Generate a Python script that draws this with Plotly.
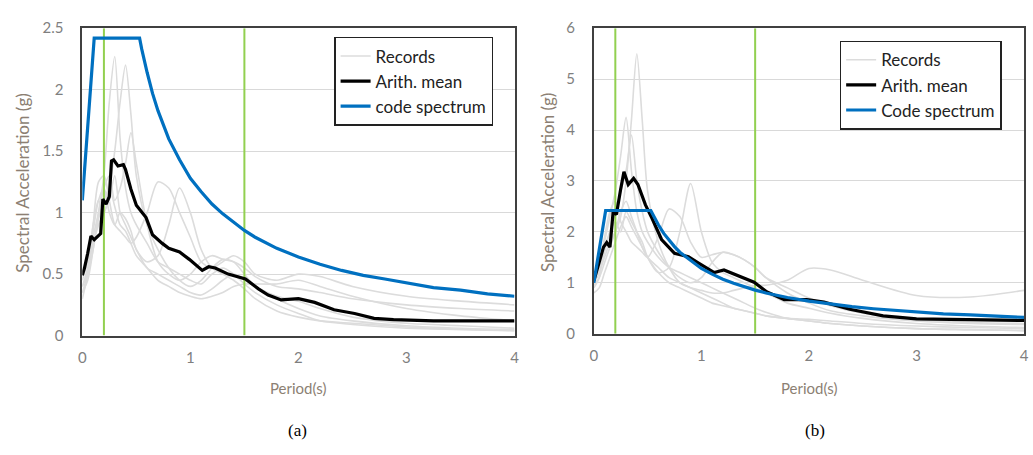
import plotly.graph_objects as go

# ---------------- data ----------------
T_rec = [0, 0.05, 0.1, 0.15, 0.2, 0.25, 0.3, 0.35, 0.4, 0.45, 0.5, 0.6, 0.7, 0.8, 0.9,
         1.0, 1.1, 1.2, 1.3, 1.4, 1.5, 1.6, 1.8, 2.0, 2.2, 2.5, 3.0, 3.5, 4.0]

records_a = [
    [0.35, 0.45, 0.7, 1.0, 1.3, 1.9, 2.27, 1.6, 1.2, 1.0, 0.9, 0.75, 0.6, 0.55, 0.5, 0.45, 0.42, 0.5, 0.55, 0.5, 0.42, 0.35, 0.25, 0.18, 0.12, 0.09, 0.06, 0.05, 0.04],
    [0.5, 0.6, 0.9, 1.1, 1.0, 1.2, 1.5, 1.9, 2.2, 1.8, 1.3, 0.9, 0.7, 0.55, 0.45, 0.4, 0.45, 0.55, 0.62, 0.6, 0.5, 0.4, 0.3, 0.22, 0.16, 0.12, 0.08, 0.06, 0.05],
    [0.4, 0.55, 0.8, 1.0, 1.2, 1.3, 1.1, 1.2, 1.4, 1.65, 1.4, 0.9, 0.6, 0.5, 0.45, 0.5, 0.6, 0.65, 0.62, 0.6, 0.55, 0.48, 0.4, 0.38, 0.35, 0.3, 0.25, 0.22, 0.2],
    [0.3, 0.5, 0.9, 1.25, 1.3, 1.1, 0.9, 0.85, 0.8, 0.75, 0.8, 1.0, 1.25, 1.2, 1.0, 0.8, 0.6, 0.55, 0.6, 0.65, 0.6, 0.5, 0.45, 0.5, 0.48, 0.4, 0.32, 0.28, 0.25],
    [0.45, 0.6, 0.85, 1.1, 1.2, 1.0, 0.9, 1.0, 0.95, 0.85, 0.7, 0.6, 0.65, 0.9, 1.2, 1.0, 0.7, 0.55, 0.5, 0.45, 0.38, 0.3, 0.2, 0.15, 0.12, 0.1, 0.07, 0.05, 0.04],
    [0.35, 0.5, 0.75, 0.9, 1.0, 1.1, 1.3, 1.0, 0.9, 0.8, 0.7, 0.55, 0.5, 0.45, 0.4, 0.35, 0.33, 0.38, 0.45, 0.5, 0.45, 0.4, 0.32, 0.28, 0.22, 0.15, 0.1, 0.08, 0.06],
    [0.4, 0.5, 0.7, 0.95, 1.1, 1.2, 1.05, 0.9, 0.85, 0.75, 0.65, 0.55, 0.45, 0.4, 0.35, 0.32, 0.3, 0.32, 0.35, 0.4, 0.42, 0.42, 0.42, 0.45, 0.4, 0.32, 0.22, 0.16, 0.12],
]

records_b = [
    [1.0, 1.2, 1.5, 1.8, 2.0, 2.3, 3.0, 4.2, 5.5, 4.2, 2.8, 1.8, 1.3, 1.0, 0.9, 0.8, 0.7, 0.6, 0.5, 0.45, 0.4, 0.35, 0.3, 0.25, 0.2, 0.15, 0.1, 0.08, 0.06],
    [0.9, 1.1, 1.8, 2.3, 2.8, 3.5, 4.25, 3.2, 2.4, 2.0, 1.8, 1.5, 1.3, 1.2, 1.1, 1.0, 0.9, 0.8, 0.7, 0.6, 0.5, 0.42, 0.3, 0.25, 0.2, 0.15, 0.1, 0.08, 0.06],
    [1.1, 1.3, 1.7, 2.0, 2.4, 2.8, 3.2, 3.9, 3.0, 2.4, 2.0, 1.6, 1.3, 1.1, 1.0, 1.1, 1.4, 1.6, 1.55, 1.45, 1.3, 1.1, 0.8, 0.6, 0.45, 0.35, 0.25, 0.2, 0.18],
    [1.0, 1.2, 1.6, 2.0, 2.2, 2.0, 2.4, 2.2, 2.0, 1.8, 1.5, 1.2, 1.3, 2.0, 2.95, 2.0, 1.4, 1.2, 1.1, 1.0, 0.9, 0.8, 0.6, 0.5, 0.4, 0.3, 0.2, 0.15, 0.12],
    [1.0, 1.3, 1.9, 2.4, 2.6, 2.2, 2.0, 1.8, 1.7, 1.6, 1.5, 1.9, 2.45, 2.3, 1.8, 1.5, 1.55, 1.6, 1.55, 1.45, 1.3, 1.1, 0.9, 0.7, 0.55, 0.4, 0.28, 0.22, 0.2],
    [0.95, 1.1, 1.4, 1.7, 2.0, 2.4, 2.6, 2.3, 2.0, 1.7, 1.5, 1.3, 1.1, 1.0, 0.9, 0.85, 0.8, 0.8, 0.85, 0.9, 0.95, 0.95, 1.05, 1.28, 1.25, 1.05, 0.75, 0.72, 0.85],
    [0.8, 0.9, 1.2, 1.5, 1.8, 2.1, 2.3, 2.1, 1.9, 1.7, 1.5, 1.2, 1.0, 0.9, 0.8, 0.7, 0.6, 0.55, 0.5, 0.45, 0.4, 0.35, 0.3, 0.28, 0.25, 0.2, 0.15, 0.12, 0.1],
]

T_mean_a = [0, 0.02, 0.05, 0.08, 0.11, 0.17, 0.19, 0.22, 0.25, 0.27, 0.29, 0.33, 0.38, 0.40, 0.45,
            0.50, 0.59, 0.65, 0.74, 0.80, 0.90, 0.99, 1.11, 1.17, 1.23, 1.35, 1.51, 1.63, 1.72,
            1.84, 2.0, 2.15, 2.33, 2.52, 2.70, 2.88, 3.25, 4.0]
mean_a = [0.49, 0.55, 0.67, 0.81, 0.78, 0.83, 1.11, 1.07, 1.13, 1.42, 1.43, 1.38, 1.39, 1.35, 1.19,
          1.06, 0.96, 0.82, 0.75, 0.71, 0.68, 0.62, 0.53, 0.56, 0.55, 0.50, 0.46, 0.38, 0.33,
          0.29, 0.30, 0.27, 0.21, 0.18, 0.14, 0.13, 0.12, 0.12]

T_mean_b = [0, 0.05, 0.09, 0.12, 0.15, 0.18, 0.21, 0.25, 0.28, 0.32, 0.37, 0.41, 0.48, 0.54,
            0.63, 0.75, 0.88, 0.97, 1.12, 1.21, 1.34, 1.49, 1.61, 1.77, 1.98, 2.14, 2.38, 2.69,
            3.0, 3.46, 4.0]
mean_b = [1.04, 1.39, 1.70, 1.79, 1.70, 2.40, 2.34, 2.84, 3.18, 2.93, 3.05, 2.93, 2.53, 2.27,
          1.85, 1.58, 1.51, 1.39, 1.20, 1.25, 1.14, 1.01, 0.82, 0.67, 0.67, 0.62, 0.48, 0.35,
          0.29, 0.27, 0.26]

T_code = [0, 0.11, 0.53, 0.55, 0.6, 0.65, 0.7, 0.75, 0.8, 0.9, 1.0, 1.1, 1.2, 1.3, 1.4, 1.5,
          1.6, 1.8, 2.0, 2.2, 2.4, 2.6, 2.8, 3.0, 3.25, 3.5, 3.75, 4.0]
code_a = [1.1, 2.42, 2.42, 2.33, 2.14, 1.97, 1.83, 1.71, 1.60, 1.43, 1.28, 1.17, 1.07, 0.99,
          0.92, 0.855, 0.80, 0.71, 0.64, 0.58, 0.53, 0.49, 0.46, 0.43, 0.39, 0.37, 0.34, 0.32]
code_b = [1.0, 2.42, 2.42, 2.33, 2.14, 1.97, 1.83, 1.71, 1.60, 1.43, 1.28, 1.17, 1.07, 0.99,
          0.92, 0.855, 0.80, 0.71, 0.64, 0.58, 0.53, 0.49, 0.46, 0.43, 0.39, 0.37, 0.34, 0.32]

limit_periods = [0.2, 1.5]
y_range_a = [0, 2.5]
y_range_b = [0, 6]
x_ticks = [0, 1, 2, 3, 4]
y_ticks_a = [0, 0.5, 1, 1.5, 2, 2.5]
y_ticks_b = [0, 1, 2, 3, 4, 5, 6]

# ---------------- style ----------------
REC = "#dcdcdc"
GREEN = "#92d050"
BLUE = "#0070c0"
TICKC = "#7f7f7f"
TITLEC = "#8c7f73"
FONT = "Lato, Open Sans, sans-serif"

fig = go.Figure()

panels = [
    dict(xa="x", ya="y", rec=records_a, Tm=T_mean_a, m=mean_a, code=code_a, yr=y_range_a,
         leg="legend", code_name="code spectrum"),
    dict(xa="x2", ya="y2", rec=records_b, Tm=T_mean_b, m=mean_b, code=code_b, yr=y_range_b,
         leg="legend2", code_name="Code spectrum"),
]

for p in panels:
    for i, r in enumerate(p["rec"]):
        fig.add_trace(go.Scatter(x=T_rec, y=r, mode="lines", xaxis=p["xa"], yaxis=p["ya"],
                                 line=dict(color=REC, width=1.6, shape="spline", smoothing=0.8),
                                 name="Records", legend=p["leg"], legendgroup="rec" + p["xa"],
                                 showlegend=(i == 0), hoverinfo="skip"))
    for tp in limit_periods:
        fig.add_trace(go.Scatter(x=[tp, tp], y=p["yr"], mode="lines", xaxis=p["xa"], yaxis=p["ya"],
                                 line=dict(color=GREEN, width=2), showlegend=False,
                                 legend=p["leg"], hoverinfo="skip"))
    fig.add_trace(go.Scatter(x=p["Tm"], y=p["m"], mode="lines", xaxis=p["xa"], yaxis=p["ya"],
                             line=dict(color="black", width=3.2), name="Arith. mean",
                             legend=p["leg"]))
    fig.add_trace(go.Scatter(x=T_code, y=p["code"], mode="lines", xaxis=p["xa"], yaxis=p["ya"],
                             line=dict(color=BLUE, width=3.2),
                             name=p["code_name"], legend=p["leg"]))

W, H = 1033, 455
def dom_x(a, b):
    return [a / W, b / W]
def dom_y(top, bottom):
    return [(H - bottom) / H, (H - top) / H]

axis_common = dict(showline=True, linecolor="#404040", linewidth=1.6, mirror=True,
                   ticks="outside", tickcolor="rgba(0,0,0,0)",
                   tickfont=dict(family=FONT, size=15, color=TICKC), zeroline=False)

fig.update_layout(
    width=W, height=H, margin=dict(l=0, r=0, t=0, b=0),
    paper_bgcolor="white", plot_bgcolor="white",
    xaxis=dict(domain=dom_x(79, 515), range=[0, 4], tickvals=x_ticks, showgrid=False,
               anchor="y", ticklen=8, **axis_common),
    yaxis=dict(domain=dom_y(19, 339), range=y_range_a, tickvals=y_ticks_a, showgrid=True,
               gridcolor="#d9d9d9", gridwidth=1.2, anchor="x", ticklen=14, **axis_common),
    xaxis2=dict(domain=dom_x(595, 1029), range=[0, 4], tickvals=x_ticks, showgrid=False,
                anchor="y2", ticklen=8, **axis_common),
    yaxis2=dict(domain=dom_y(19, 337), range=y_range_b, tickvals=y_ticks_b, showgrid=True,
                gridcolor="#d9d9d9", gridwidth=1.2, anchor="x2", ticklen=14, **axis_common),
    legend=dict(x=333 / W, y=1 - 28 / H, xanchor="left", yanchor="top",
                bgcolor="white", bordercolor="#222222", borderwidth=1.5,
                font=dict(family=FONT, size=17, color="#222222"), tracegroupgap=0,
                itemwidth=30),
    legend2=dict(x=843 / W, y=1 - 32 / H, xanchor="left", yanchor="top",
                 bgcolor="white", bordercolor="#222222", borderwidth=1.5,
                 font=dict(family=FONT, size=17, color="#222222"), tracegroupgap=0,
                 itemwidth=30),
    showlegend=True,
)

annots = [
    dict(x=297 / W, y=1 - 394 / H, text="Period(s)", font=dict(family=FONT, size=15, color=TITLEC)),
    dict(x=812 / W, y=1 - 394 / H, text="Period(s)", font=dict(family=FONT, size=15, color=TITLEC)),
    dict(x=19 / W, y=1 - 180 / H, text="Spectral Acceleration (g)", textangle=-90,
         font=dict(family=FONT, size=17, color=TITLEC)),
    dict(x=549 / W, y=1 - 180 / H, text="Spectral Acceleration (g)", textangle=-90,
         font=dict(family=FONT, size=17, color=TITLEC)),
    dict(x=296 / W, y=1 - 438 / H, text="(a)", font=dict(family="Liberation Serif", size=17, color="black")),
    dict(x=818 / W, y=1 - 438 / H, text="(b)", font=dict(family="Liberation Serif", size=17, color="black")),
]
for a in annots:
    fig.add_annotation(xref="paper", yref="paper", showarrow=False, xanchor="center",
                       yanchor="middle", **a)

fig.write_html("out.html")
